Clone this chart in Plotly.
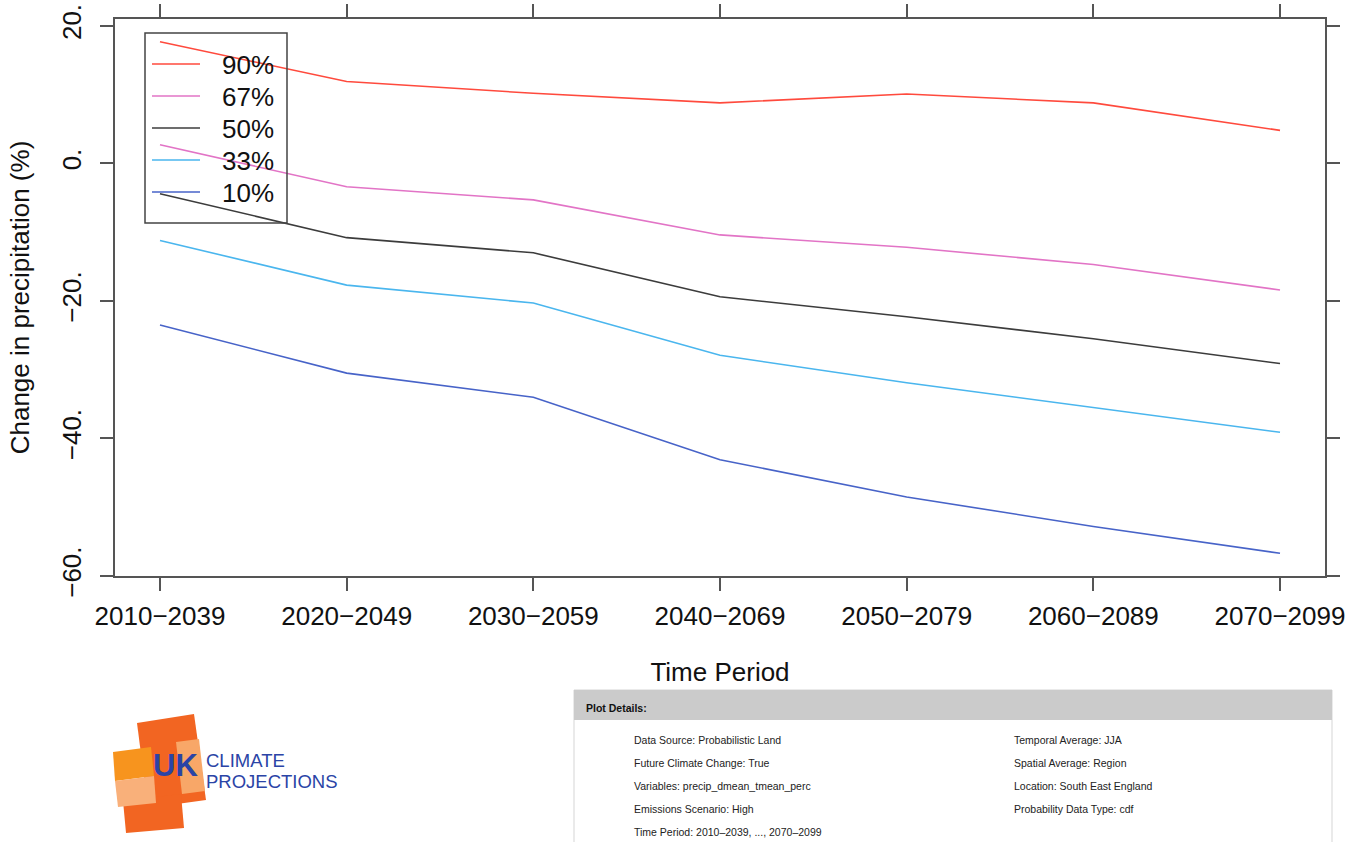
import plotly.graph_objects as go

# ---------------- data ----------------
periods = ["2010\u22122039", "2020\u22122049", "2030\u22122059", "2040\u22122069",
           "2050\u22122079", "2060\u22122089", "2070\u22122099"]
p90 = [17.7, 11.9, 10.2, 8.8, 10.1, 8.8, 4.8]
p67 = [2.7, -3.4, -5.3, -10.4, -12.2, -14.7, -18.4]
p50 = [-4.4, -10.8, -13.0, -19.4, -22.3, -25.5, -29.1]
p33 = [-11.2, -17.7, -20.3, -27.9, -31.9, -35.5, -39.1]
p10 = [-23.5, -30.5, -34.0, -43.1, -48.5, -52.8, -56.7]
series_labels = ["90%", "67%", "50%", "33%", "10%"]
series_values = [p90, p67, p50, p33, p10]
series_colors = ["#FF4A3D", "#E274C6", "#3C3C3C", "#4AB6EE", "#4763C8"]

ytick_vals = [-60, -40, -20, 0, 20]
ytick_text = ["\u221260.", "\u221240.", "\u221220.", "0.", "20."]

details_left = ["Data Source: Probabilistic Land",
                "Future Climate Change: True",
                "Variables: precip_dmean_tmean_perc",
                "Emissions Scenario: High",
                "Time Period: 2010\u20132039, ..., 2070\u20132099"]
details_right = ["Temporal Average: JJA",
                 "Spatial Average: Region",
                 "Location: South East England",
                 "Probability Data Type: cdf"]

# ---------------- layout geometry (pixels) ----------------
W_FIG, H_FIG = 1363, 842
L, R, T, B = 115, 1325, 19, 576
PW, PH = R - L, B - T


def px(x):
    return (x - L) / PW


def py(y):
    return (B - y) / PH


FONT = "Liberation Sans, Arial, Helvetica, sans-serif"
NARROW = "Liberation Sans Narrow, Arial Narrow, " + FONT
AXC = "#555555"

fig = go.Figure()
for lab, vals, col in zip(series_labels, series_values, series_colors):
    fig.add_trace(go.Scatter(x=periods, y=vals, mode="lines", name=lab,
                             line=dict(color=col, width=1.6), showlegend=False))

shapes = []
annotations = []

# manual legend (transparent, bordered)
shapes.append(dict(type="rect", xref="paper", yref="paper",
                   x0=px(145), x1=px(287), y0=py(223), y1=py(33),
                   line=dict(color="#444444", width=1.5), fillcolor="rgba(0,0,0,0)"))
for i, (lab, col) in enumerate(zip(series_labels, series_colors)):
    yy = 64 + 32 * i
    shapes.append(dict(type="line", xref="paper", yref="paper",
                       x0=px(152), x1=px(200), y0=py(yy), y1=py(yy),
                       line=dict(color=col, width=1.6)))
    annotations.append(dict(xref="paper", yref="paper", x=px(276), y=py(yy + 1),
                            text=lab, showarrow=False, xanchor="right", yanchor="middle",
                            font=dict(family=FONT, size=26, color="#111111")))

# ---------------- logo ----------------
def poly(pts, color):
    path = "M " + " L ".join(f"{px(x)},{py(y)}" for x, y in pts) + " Z"
    return dict(type="path", xref="paper", yref="paper", path=path,
                fillcolor=color, line=dict(width=0))


shapes += [
    poly([(137, 723), (194, 714), (206, 800), (148, 808)], "#F26522"),
    poly([(123, 801), (181, 794), (184, 828), (126, 833)], "#F26522"),
    poly([(176, 742), (199, 739), (205, 791), (182, 794)], "#F8A768"),
    poly([(113, 752), (151, 747), (154, 776), (115, 781)], "#F7941E"),
    poly([(115, 781), (154, 776), (156, 803), (118, 807)], "#F9B07A"),
]
annotations.append(dict(xref="paper", yref="paper", x=px(151), y=py(765), text="<b>UK</b>",
                        showarrow=False, xanchor="left", yanchor="middle",
                        font=dict(family=FONT, size=31, color="#2B44A6")))
annotations.append(dict(xref="paper", yref="paper", x=px(204), y=py(760), text="CLIMATE",
                        showarrow=False, xanchor="left", yanchor="middle",
                        font=dict(family=NARROW, size=18.5, color="#2B44A6")))
annotations.append(dict(xref="paper", yref="paper", x=px(204), y=py(781), text="PROJECTIONS",
                        showarrow=False, xanchor="left", yanchor="middle",
                        font=dict(family=NARROW, size=18.5, color="#2B44A6")))

# ---------------- plot details panel ----------------
shapes.append(dict(type="rect", xref="paper", yref="paper",
                   x0=px(574), x1=px(1332), y0=py(850), y1=py(690),
                   line=dict(color="#D5D5D5", width=1), fillcolor="white"))
shapes.append(dict(type="rect", xref="paper", yref="paper",
                   x0=px(574), x1=px(1332), y0=py(720), y1=py(690),
                   line=dict(width=0), fillcolor="#CBCBCB"))
annotations.append(dict(xref="paper", yref="paper", x=px(584), y=py(708),
                        text="<b>Plot Details:</b>", showarrow=False,
                        xanchor="left", yanchor="middle",
                        font=dict(family=FONT, size=10.5, color="#111111")))
for i, t in enumerate(details_left):
    annotations.append(dict(xref="paper", yref="paper", x=px(632), y=py(740 + 23 * i),
                            text=t, showarrow=False, xanchor="left", yanchor="middle",
                            font=dict(family=FONT, size=10.5, color="#222222")))
for i, t in enumerate(details_right):
    annotations.append(dict(xref="paper", yref="paper", x=px(1012), y=py(740 + 23 * i),
                            text=t, showarrow=False, xanchor="left", yanchor="middle",
                            font=dict(family=FONT, size=10.5, color="#222222")))

fig.update_layout(
    template="none",
    width=W_FIG, height=H_FIG,
    margin=dict(l=L, r=W_FIG - R, t=T, b=H_FIG - B, pad=0, autoexpand=False),
    paper_bgcolor="white", plot_bgcolor="white",
    font=dict(family=FONT, color="#111111"),
    shapes=shapes, annotations=annotations,
    showlegend=False,
    xaxis=dict(type="category", range=[-0.241, 6.241], automargin=False,
               showline=True, linecolor=AXC, linewidth=1.5, mirror="allticks",
               ticks="outside", ticklen=13, tickwidth=1.5, tickcolor=AXC,
               showgrid=False, zeroline=False, ticklabelstandoff=3,
               tickfont=dict(family=FONT, size=26, color="#111111"),
               title=dict(text="Time Period", font=dict(family=FONT, size=26, color="#111111"),
                          standoff=33)),
    yaxis=dict(range=[-60, 21.0], tickvals=ytick_vals, ticktext=ytick_text, automargin=False,
               showline=True, linecolor=AXC, linewidth=1.5, mirror="allticks",
               ticks="outside", ticklen=13, tickwidth=1.5, tickcolor=AXC,
               showgrid=False, zeroline=False, tickangle=-90, ticklabelstandoff=9,
               tickfont=dict(family=FONT, size=26, color="#111111"),
               title=dict(text="Change in precipitation (%)",
                          font=dict(family=FONT, size=26, color="#111111"), standoff=20)),
)

fig.write_html("out.html", config={"displayModeBar": False},
               post_script="document.body.style.margin='0';document.body.style.overflow='hidden';")
